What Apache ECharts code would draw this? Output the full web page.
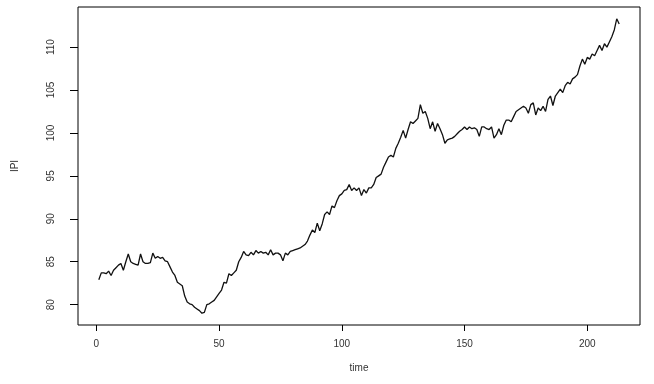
<!DOCTYPE html>
<html>
<head>
<meta charset="utf-8">
<script src="https://cdn.jsdelivr.net/npm/echarts@6/dist/echarts.min.js"></script>
<style>
  html, body { margin: 0; padding: 0; background: #fff; }
  #main { width: 654px; height: 384px; }
</style>
</head>
<body>
<div id="main"></div>
<script>
// monthly IPI values, t = 1..213
var ipi = [
    82.9, 83.7, 83.7, 83.6, 83.9, 83.4, 84.0, 84.3, 84.6, 84.8,
    84.0, 85.0, 85.9, 85.0, 84.8, 84.7, 84.6, 85.9, 85.0, 84.8,
    84.8, 84.9, 86.0, 85.4, 85.6, 85.4, 85.5, 85.1, 85.0, 84.4,
    83.8, 83.4, 82.6, 82.4, 82.2, 81.0, 80.3, 80.1, 80.0, 79.7,
    79.5, 79.3, 79.0, 79.1, 80.0, 80.1, 80.3, 80.5, 80.9, 81.3,
    81.7, 82.6, 82.5, 83.6, 83.4, 83.7, 84.0, 85.0, 85.5, 86.2,
    85.8, 85.7, 86.1, 85.8, 86.3, 86.0, 86.2, 86.0, 86.1, 85.8,
    86.4, 85.8, 86.0, 86.0, 85.8, 85.1, 86.0, 85.8, 86.2, 86.3,
    86.4, 86.5, 86.6, 86.8, 87.0, 87.4, 88.1, 88.7, 88.4, 89.5,
    88.6, 89.4, 90.5, 90.8, 90.5, 91.5, 91.3, 92.1, 92.7, 92.9,
    93.3, 93.4, 94.0, 93.3, 93.6, 93.3, 93.6, 92.7, 93.4, 93.0,
    93.6, 93.6, 94.0, 94.8, 95.0, 95.2, 96.0, 96.6, 97.2, 97.4,
    97.2, 98.2, 98.8, 99.5, 100.3, 99.4, 100.4, 101.3, 101.1, 101.4,
    101.7, 103.3, 102.3, 102.5, 101.7, 100.5, 101.3, 100.2, 101.1, 100.5,
    99.8, 98.8, 99.2, 99.3, 99.4, 99.6, 99.9, 100.2, 100.4, 100.7,
    100.4, 100.7, 100.5, 100.6, 100.4, 99.6, 100.7, 100.7, 100.5, 100.4,
    100.7, 99.4, 99.8, 100.5, 99.8, 100.9, 101.5, 101.5, 101.3, 101.9,
    102.5, 102.7, 102.9, 103.1, 102.9, 102.3, 103.3, 103.5, 102.1, 102.9,
    102.6, 103.1, 102.5, 103.9, 104.3, 103.2, 104.3, 104.7, 105.1, 104.7,
    105.5, 105.9, 105.7, 106.3, 106.5, 106.8, 107.8, 108.6, 108.0, 108.8,
    108.6, 109.2, 109.0, 109.6, 110.2, 109.6, 110.4, 110.0, 110.6, 111.2,
    112.0, 113.3, 112.7
];
var xTicks = [0, 50, 100, 150, 200];
var yTicks = [80, 85, 90, 95, 100, 105, 110];

var myChart = echarts.init(document.getElementById('main'), null, { renderer: 'canvas' });

var seriesData = ipi.map(function(v, i) {
    return [i + 1, v];
});

// R style range: data range padded by 4% on each side
var n = ipi.length;
var xPad = (n - 1) * 0.04;
var yMin = Math.min.apply(null, ipi);
var yMax = Math.max.apply(null, ipi);
var yPad = (yMax - yMin) * 0.04;

var labelFont = {
    color: '#333',
    fontSize: 10,
    fontFamily: 'Liberation Sans'
};

var option = {
    animation: false,
    backgroundColor: '#fff',
    grid: {
        left: 78,
        right: 14,
        top: 7,
        bottom: 59,
        show: true,
        borderColor: '#000',
        borderWidth: 1
    },
    xAxis: {
        type: 'value',
        min: 1 - xPad,
        max: n + xPad,
        splitLine: { show: false },
        axisLine: { show: false, onZero: false },
        axisTick: {
            show: true,
            customValues: xTicks,
            length: 6,
            lineStyle: { color: '#000' }
        },
        axisLabel: Object.assign({
            customValues: xTicks,
            margin: 14
        }, labelFont),
        name: 'time',
        nameLocation: 'middle',
        nameGap: 38,
        nameMoveOverlap: false,
        nameTextStyle: labelFont
    },
    yAxis: {
        type: 'value',
        min: yMin - yPad,
        max: yMax + yPad,
        splitLine: { show: false },
        axisLine: { show: false, onZero: false },
        axisTick: {
            show: true,
            customValues: yTicks,
            length: 8,
            lineStyle: { color: '#000' }
        },
        axisLabel: Object.assign({
            customValues: yTicks,
            rotate: 90,
            margin: 22
        }, labelFont),
        name: 'IPI',
        nameLocation: 'middle',
        nameGap: 58,
        nameMoveOverlap: false,
        nameTextStyle: labelFont
    },
    series: [{
        type: 'line',
        data: seriesData,
        showSymbol: false,
        lineStyle: { color: '#111', width: 1.3 }
    }]
};

myChart.setOption(option);
</script>
</body>
</html>
